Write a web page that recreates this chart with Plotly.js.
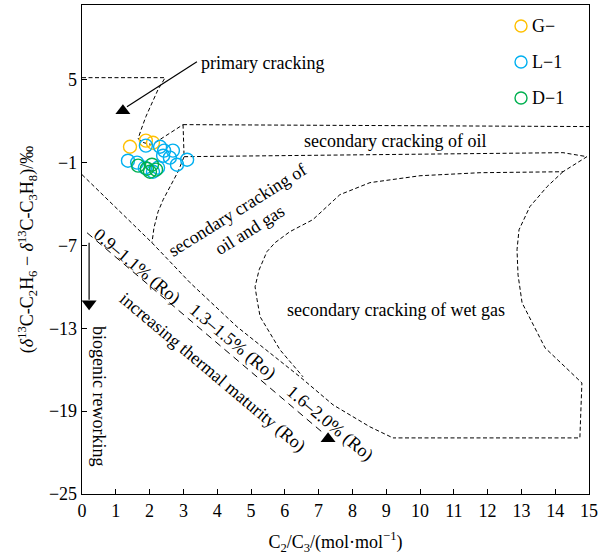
<!DOCTYPE html>
<html>
<head>
<meta charset="utf-8">
<script src="https://cdn.plot.ly/plotly-3.0.1.min.js"></script>
<style>html,body{margin:0;padding:0;background:#fff;}#chart{width:598px;height:555px;}</style>
</head>
<body>
<div id="chart"></div>
<script>
// ---- sample data ----
const seriesNames = ['G\u2212', 'L\u22121', 'D\u22121'];
const seriesColors = ['#FFC000', '#00B0F0', '#00B050'];
const gX = [1.42, 1.89, 2.10];
const gY = [0.14, 0.58, 0.43];
const lX = [1.89, 2.31, 2.43, 2.40, 2.69, 2.60, 2.81, 3.11, 1.36, 1.63, 1.86, 2.10, 2.25];
const lY = [0.22, 0.14, -0.14, -0.51, -0.14, -0.65, -1.16, -0.80, -0.87, -1.01, -1.38, -1.67, -1.38];
const dX = [1.66, 1.92, 2.07, 2.01, 2.19];
const dY = [-1.23, -1.45, -1.16, -1.67, -1.52];

// ---- axis ticks ----
const xTicks = [0,1,2,3,4,5,6,7,8,9,10,11,12,13,14,15];
const yTicks = [-25, -19, -13, -7, -1, 5];

// ---- region outlines (data coordinates) ----
const primaryX = [0, 2.46, 2.25, 2.07, 1.89, 1.75, 1.66, 1.83, 2.07, 2.99];
const primaryY = [5.14, 5.14, 4.28, 3.33, 2.32, 1.38, 0.72, 0.43, 0.29, 1.74];
const oilTopX = [2.99, 15];
const oilTopY = [1.74, 1.6];
const oilGasLeftX = [2.99, 3.02, 3.02, 2.84, 2.60, 2.40, 2.25, 2.13, 2.07];
const oilGasLeftY = [1.74, -0.07, -0.58, -1.67, -2.75, -3.70, -4.57, -5.72, -6.81];
const oilLowerX = [3.02, 14.23, 14.94, 14.23, 11.78, 10.0, 8.52, 7.63, 6.83, 6.15, 5.71, 5.47, 5.24, 5.12, 5.18, 5.27, 5.86, 6.54];
const oilLowerY = [-0.58, -0.29, -0.58, -1.67, -1.74, -1.96, -2.46, -3.33, -5.14, -6.01, -6.81, -7.46, -8.77, -10.0, -10.94, -12.17, -14.57, -16.52];
const wetGasX = [14.23, 13.76, 13.25, 12.93, 12.87, 12.90, 13.02, 13.70, 14.79, 14.73, 9.20];
const wetGasY = [-1.67, -2.75, -4.20, -5.87, -7.32, -9.13, -11.16, -14.42, -16.96, -20.94, -20.94];
const diagX = [0, 2.07, 3.20, 4.59, 6.45, 7.43, 8.52, 9.20];
const diagY = [-1.88, -6.81, -9.71, -12.90, -16.52, -18.55, -20.14, -20.94];
const maturityX = [0.15, 7.10];
const maturityY = [-6.09, -20.51];
const maturityHeadX = [7.28];
const maturityHeadY = [-21.0];
const bioX = [0.21, 0.21];
const bioY = [-6.81, -10.94];
const bioHeadX = [0.21];
const bioHeadY = [-11.23];
const primArrowX = [3.40, 1.33];
const primArrowY = [6.30, 3.04];
const primHeadX = [1.21];
const primHeadY = [2.75];

// ---- labels ----
const labels = [
  {text: 'primary cracking', x: 5.33, y: 6.23, a: 0},
  {text: 'secondary cracking of oil', x: 9.25, y: 0.58, a: 0},
  {text: 'secondary cracking of<br>oil and gas', x: 4.79, y: -5.14, a: -32},
  {text: 'secondary cracking of wet gas', x: 9.29, y: -11.67, a: 0},
  {text: '0.9\u20131.1% (Ro)', x: 1.63, y: -8.5, a: 40},
  {text: '1.3\u20131.5% (Ro)', x: 4.44, y: -13.99, a: 40},
  {text: '1.6\u20132.0% (Ro)', x: 7.34, y: -19.86, a: 40},
  {text: 'increasing thermal maturity (Ro)', x: 3.85, y: -16.23, a: 40},
  {text: 'biogenic reworking', x: 0.5, y: -17.9, a: 90}
];

const FONT = 'Liberation Serif, Times New Roman, serif';
const FS = 18;
const dashLine = (x, y, dash) => ({
  x: x, y: y, mode: 'lines', type: 'scatter', showlegend: false, hoverinfo: 'skip',
  line: {color: '#000', width: 1, dash: dash || '4px,2.5px'}
});
const solidLine = (x, y) => ({
  x: x, y: y, mode: 'lines', type: 'scatter', showlegend: false, hoverinfo: 'skip',
  line: {color: '#000', width: 1.2}
});
const head = (x, y, sym) => ({
  x: x, y: y, mode: 'markers', type: 'scatter', showlegend: false, hoverinfo: 'skip',
  marker: {symbol: sym, size: 13, color: '#000'}
});
const pts = (x, y, i) => ({
  x: x, y: y, mode: 'markers', type: 'scatter', name: seriesNames[i], showlegend: false,
  marker: {symbol: 'circle-open', size: 13, color: seriesColors[i], line: {width: 1.4, color: seriesColors[i]}}
});

const traces = [
  dashLine(primaryX, primaryY),
  dashLine(oilTopX, oilTopY),
  dashLine(oilGasLeftX, oilGasLeftY),
  dashLine(oilLowerX, oilLowerY),
  dashLine(wetGasX, wetGasY),
  dashLine(diagX, diagY),
  dashLine(maturityX, maturityY, '7px,5px'),
  head(maturityHeadX, maturityHeadY, 'triangle-up'),
  solidLine(bioX, bioY),
  head(bioHeadX, bioHeadY, 'triangle-down'),
  solidLine(primArrowX, primArrowY),
  head(primHeadX, primHeadY, 'triangle-up'),
  pts(gX, gY, 0),
  pts(lX, lY, 1),
  pts(dX, dY, 2)
];

// ---- legend (drawn as circles + labels in paper space) ----
const legendCx = 0.8659;      // symbol centre (paper x)
const legendTx = 0.8836;      // label left (paper x)
const legendYs = [0.957, 0.8834, 0.8098];
const legendShapes = seriesNames.map((n, i) => ({
  type: 'circle', xref: 'paper', yref: 'paper', xsizemode: 'pixel', ysizemode: 'pixel',
  xanchor: legendCx, yanchor: legendYs[i], x0: -6, x1: 6, y0: -6, y1: 6,
  line: {color: seriesColors[i], width: 1.4}, fillcolor: 'rgba(0,0,0,0)'
}));
const legendAnns = seriesNames.map((n, i) => ({
  text: n, xref: 'paper', yref: 'paper', x: legendTx, y: legendYs[i], xanchor: 'left', yanchor: 'middle',
  showarrow: false, font: {family: FONT, size: FS, color: '#000'}
}));

const layout = {
  width: 598, height: 555,
  margin: {l: 82, r: 9, t: 5, b: 61},
  paper_bgcolor: '#fff', plot_bgcolor: '#fff',
  font: {family: FONT, size: FS, color: '#000'},
  showlegend: false,
  xaxis: {
    range: [0, 15], tickvals: xTicks, ticks: 'inside', ticklen: 5, tickwidth: 1, tickcolor: '#000',
    showline: true, linecolor: '#000', linewidth: 1.3, mirror: true, showgrid: false, zeroline: false,
    tickfont: {family: FONT, size: FS},
    title: {text: 'C<sub>2</sub>/C<sub>3</sub>/(mol\u00b7mol<sup>\u22121</sup>)', font: {family: FONT, size: FS}, standoff: 15}
  },
  yaxis: {
    range: [-25, 10.4], tickvals: yTicks, ticks: 'inside', ticklen: 5, tickwidth: 1, tickcolor: '#000',
    showline: true, linecolor: '#000', linewidth: 1.3, mirror: true, showgrid: false, zeroline: false,
    tickfont: {family: FONT, size: FS},
    title: {text: '(<i>\u03b4</i><sup>13</sup>C-C<sub>2</sub>H<sub>6</sub> \u2212 <i>\u03b4</i><sup>13</sup>C-C<sub>3</sub>H<sub>8</sub>)/\u2030', font: {family: FONT, size: FS}, standoff: 10}
  },
  shapes: legendShapes,
  annotations: labels.map(l => ({
    text: l.text, x: l.x, y: l.y, xref: 'x', yref: 'y', showarrow: false, textangle: l.a,
    font: {family: FONT, size: FS, color: '#000'}
  })).concat(legendAnns)
};

Plotly.newPlot('chart', traces, layout, {displayModeBar: false, staticPlot: true});
</script>
</body>
</html>
